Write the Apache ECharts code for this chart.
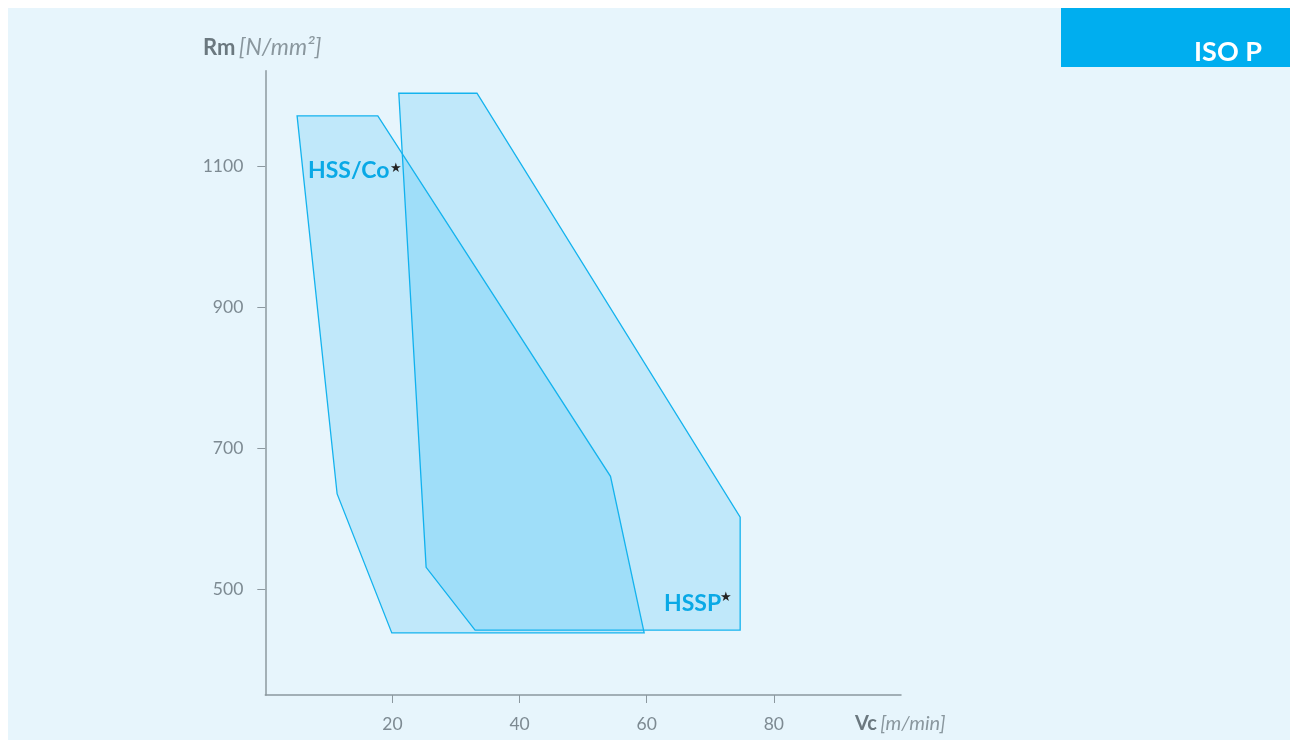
<!DOCTYPE html>
<html>
<head>
<meta charset="utf-8">
<script src="https://cdn.jsdelivr.net/npm/echarts@6/dist/echarts.min.js"></script>
<style>
html,body{margin:0;padding:0;background:#fff;}
#main{width:1290px;height:747px;}
</style>
</head>
<body>
<div id="main"></div>
<script>
// outline corners, Vc [m/min] against Rm [N/mm2]
var hssCoVc = [5, 17.7, 54.3, 59.6, 19.9, 11.3];
var hssCoRm = [1171, 1171, 660, 438, 438, 635];
var hsspVc = [21, 33.3, 74.7, 74.7, 33, 25.3];
var hsspRm = [1203, 1203, 602, 442, 442, 531];
var vcTicks = [20, 40, 60, 80];
var rmTicks = [500, 700, 900, 1100];

var axisGrey = '#8c989f';
var labelGrey = '#7d8a92';
var cyan = '#00aeef';

function zone(name, xs, ys) {
	return {
		type: 'custom',
		name: name,
		data: [[xs[0], ys[0]]],
		renderItem: function (params, api) {
			var pts = xs.map(function (x, i) {
				return api.coord([x, ys[i]]);
			});
			return {
				type: 'polygon',
				shape: { points: pts },
				style: {
					fill: 'rgba(0,172,245,0.17)',
					stroke: '#14b3ee',
					lineWidth: 1.3
				}
			};
		}
	};
}

function plain(v) { return String(v); }

var myChart = echarts.init(document.getElementById('main'));
var option = {
	backgroundColor: '#fff',
	animation: false,
	textStyle: { fontFamily: 'Lato' },
	grid: { left: 265.3, right: 389, top: 70.7, bottom: 52 },
	xAxis: {
		type: 'value',
		min: 0,
		max: 100,
		splitLine: { show: false },
		axisLine: { lineStyle: { color: axisGrey, width: 1.5 } },
		axisTick: { customValues: vcTicks, length: 8, lineStyle: { color: axisGrey, width: 1 } },
		axisLabel: { customValues: vcTicks, formatter: plain, margin: 20, color: labelGrey, fontSize: 17.5, fontFamily: 'Lato' }
	},
	yAxis: {
		type: 'value',
		min: 350,
		max: 1235,
		splitLine: { show: false },
		axisLine: { lineStyle: { color: axisGrey, width: 1.5 } },
		axisTick: { customValues: rmTicks, length: 8, lineStyle: { color: axisGrey, width: 1 } },
		axisLabel: { customValues: rmTicks, formatter: plain, margin: 22, color: labelGrey, fontSize: 17.5, fontFamily: 'Lato' }
	},
	graphic: [
		{ type: 'rect', z: -10, shape: { x: 8, y: 8, width: 1282, height: 732 }, style: { fill: '#e7f5fc' } },
		{ type: 'rect', z: 1, shape: { x: 1061, y: 8, width: 229, height: 59 }, style: { fill: cyan } },
		{ type: 'text', z: 2, style: { x: 1262, y: 52, text: 'ISO P', fill: '#fff', font: 'bold 27px Lato', textAlign: 'right', textVerticalAlign: 'middle' } },
		{ type: 'text', z: 5, style: { x: 203, y: 48, textVerticalAlign: 'middle',
			text: '{b|Rm} {i|[N/mm²]}',
			rich: {
				b: { fontFamily: 'Lato', fontWeight: 'bold', fontSize: 22, fill: '#6b787f' },
				i: { fontFamily: 'Lato', fontStyle: 'italic', fontSize: 23, fill: '#8a979e' }
			} } },
		{ type: 'text', z: 5, style: { x: 855, y: 724, textVerticalAlign: 'middle',
			text: '{b|Vc} {i|[m/min]}',
			rich: {
				b: { fontFamily: 'Lato', fontWeight: 'bold', fontSize: 20, fill: '#6b787f' },
				i: { fontFamily: 'Lato', fontStyle: 'italic', fontSize: 20, fill: '#8a979e' }
			} } },
		{ type: 'text', z: 5, style: { x: 308, y: 171, text: 'HSS/Co', fill: '#0aa9e6', font: 'bold 23px Lato', textVerticalAlign: 'middle' } },
		{ type: 'text', z: 5, style: { x: 390, y: 169, text: '★', fill: '#222', font: '13px "DejaVu Sans"', textVerticalAlign: 'middle' } },
		{ type: 'text', z: 5, style: { x: 664, y: 604, text: 'HSSP', fill: '#0aa9e6', font: 'bold 23px Lato', textVerticalAlign: 'middle' } },
		{ type: 'text', z: 5, style: { x: 720, y: 598, text: '★', fill: '#222', font: '13px "DejaVu Sans"', textVerticalAlign: 'middle' } }
	],
	series: [
		zone('HSSP', hsspVc, hsspRm),
		zone('HSS/Co', hssCoVc, hssCoRm)
	]
};
myChart.setOption(option);
</script>
</body>
</html>
